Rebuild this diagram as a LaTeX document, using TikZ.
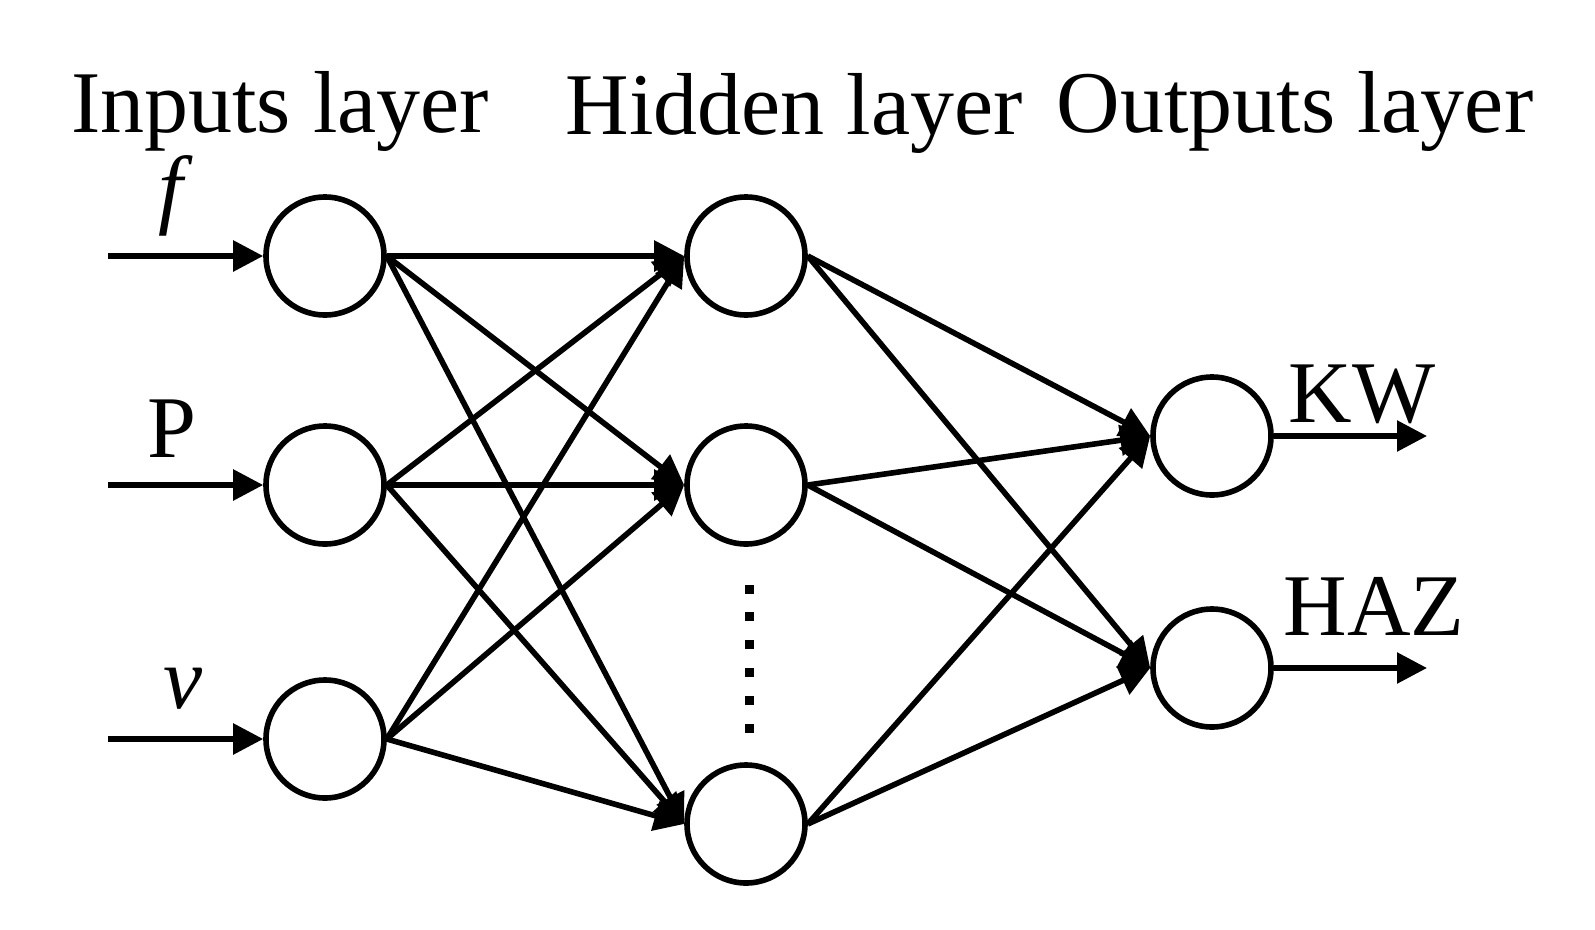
\documentclass[tikz,border=0pt]{standalone}
\usepackage{fontspec}
\setmainfont{Liberation Serif}
\usetikzlibrary{arrows.meta}
\begin{document}
\begin{tikzpicture}[x=1pt,y=-1pt,line width=5.6pt,
    >={Triangle[length=30pt,width=30pt]},
    neuron/.style={circle,draw,inner sep=0pt,minimum size=118pt},
    lbl/.style={anchor=base,inner sep=0pt,font=\fontsize{88}{96}\selectfont}]
    \useasboundingbox (0,0) rectangle (1595,929);
    \def\xi{325} \def\xh{746} \def\xo{1212}
    % layer titles
    \node[lbl] (tin) at (280,132) {Inputs layer};
    \node[lbl] (thid) at (794,134) {Hidden layer};
    \node[lbl] (tout) at (1295,132) {Outputs layer};
    % neurons
    \node[neuron] (in1) at (\xi,256) {};
    \node[neuron] (in2) at (\xi,485) {};
    \node[neuron] (in3) at (\xi,739) {};
    \node[neuron] (hid1) at (\xh,256) {};
    \node[neuron] (hid2) at (\xh,485) {};
    \node[neuron] (hid3) at (\xh,824) {};
    \node[neuron] (out1) at (\xo,436) {};
    \node[neuron] (out2) at (\xo,668) {};
    % inputs and outputs
    \coordinate (x1) at (108,256);
    \coordinate (x2) at (108,485);
    \coordinate (x3) at (108,739);
    \coordinate (y1) at (1427,436);
    \coordinate (y2) at (1427,668);
    \node[lbl] (lf) at (176,217) {\textit{f}};
    \node[lbl] (lp) at (172,457) {P};
    \node[lbl] (lv) at (183,708) {\textit{v}};
    \node[lbl] (lkw) at (1362,422) {KW};
    \node[lbl] (lhaz) at (1374,635) {HAZ};
    \foreach \i in {1,2,3} \draw[->] (x\i) -- (in\i.west);
    \foreach \k in {1,2} \draw[->] (out\k.east) -- (y\k);
    % connections
    \foreach \i in {1,2,3}
        \foreach \j in {1,2,3}
            \draw[->] (in\i.east) -- (hid\j.west);
    \foreach \j in {1,2,3}
        \foreach \k in {1,2}
            \draw[->] (hid\j.east) -- (out\k.west);
    % dots between hidden neurons
    \foreach \d in {0,...,5}
        \fill (744.5,584.5+27.8*\d) rectangle ++(9,9);
\end{tikzpicture}
\end{document}
